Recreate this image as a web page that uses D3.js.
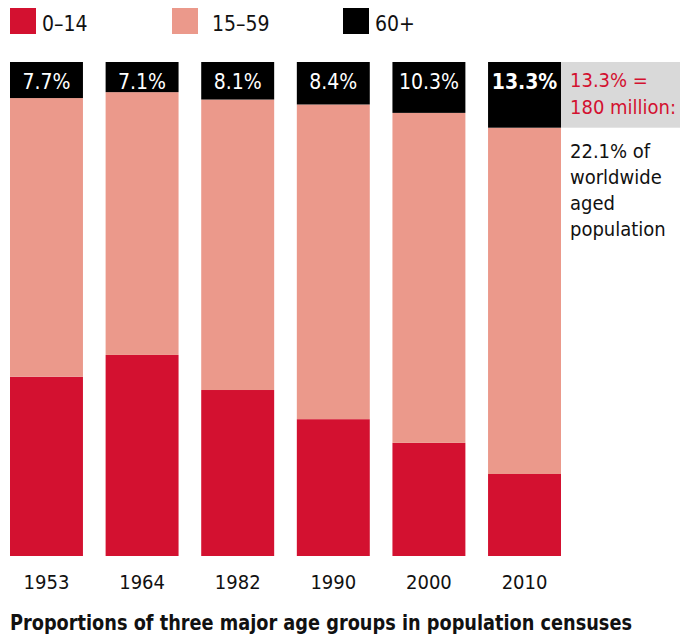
<!DOCTYPE html>
<html>
<head>
<meta charset="utf-8">
<script src="https://cdn.jsdelivr.net/npm/d3@7"></script>
<style>
  body { margin: 0; background: #fff; }
  text { font-family: "Liberation Sans Narrow", "DejaVu Sans Condensed", sans-serif; }
</style>
</head>
<body>
<svg width="691" height="639"></svg>
<script>
const years = ['1953', '1964', '1982', '1990', '2000', '2010'];
const young = [36.3, 40.7, 33.6, 27.7, 22.9, 16.6];   // 0-14
const old = [7.3, 6.1, 7.6, 8.6, 10.3, 13.3];         // 60+
const oldLabels = ['7.7%', '7.1%', '8.1%', '8.4%', '10.3%', '13.3%'];
const groups = ['0–14', '15–59', '60+'];
const colors = ['#d31130', '#eb998b', '#000000'];

let svg = d3.select('svg');

const data = years.map((y, i) => ({
  year: y,
  young: young[i],
  mid: 100 - young[i] - old[i],
  old: old[i]
}));

let x = d3.scaleBand().domain(years).range([10, 561]).paddingInner(0.237),
    y = d3.scaleLinear().domain([0, 100]).range([556, 62]);

const stack = d3.stack().keys(['young', 'mid', 'old']);
const series = stack(data);

svg.append('g')
  .selectAll('g')
  .data(series)
  .enter().append('g')
    .attr('fill', (d, i) => colors[i])
  .selectAll('rect')
  .data(d => d)
  .enter().append('rect')
    .attr('x', d => x(d.data.year))
    .attr('y', d => y(d[1]))
    .attr('width', x.bandwidth())
    .attr('height', d => y(d[0]) - y(d[1]));

// percent labels in the black part
svg.append('g')
  .selectAll('text')
  .data(data)
  .enter().append('text')
    .attr('x', d => x(d.year) + x.bandwidth() / 2)
    .attr('y', 89)
    .attr('text-anchor', 'middle')
    .attr('fill', '#fff')
    .attr('font-size', 21)
    .attr('font-weight', (d, i) => i === years.length - 1 ? 'bold' : 'normal')
    .text((d, i) => oldLabels[i]);

// year axis
svg.append('g')
  .attr('transform', 'translate(0, 567)')
  .call(d3.axisBottom(x).tickSize(0).tickPadding(0))
  .call(g => g.select('.domain').remove())
  .selectAll('text')
    .attr('dy', 0)
    .attr('y', 22)
    .attr('fill', '#111')
    .attr('font-size', 20)
    .style('font-family', '"Liberation Sans Narrow", "DejaVu Sans Condensed", sans-serif');

// callout for 2010
const last = data[data.length - 1];
svg.append('rect')
  .attr('x', x.range()[1])
  .attr('y', y(100))
  .attr('width', 119)
  .attr('height', y(100 - last.old) - y(100))
  .attr('fill', '#d9d9d9');

svg.append('text')
  .attr('fill', '#d31130')
  .attr('font-size', 20)
  .selectAll('tspan')
  .data(['13.3% =', '180 million:'])
  .enter().append('tspan')
    .attr('x', 570)
    .attr('y', (d, i) => 87 + i * 27)
    .text(d => d);

svg.append('text')
  .attr('fill', '#111')
  .attr('font-size', 20)
  .selectAll('tspan')
  .data(['22.1% of', 'worldwide', 'aged', 'population'])
  .enter().append('tspan')
    .attr('x', 570)
    .attr('y', (d, i) => 158 + i * 26)
    .text(d => d);

// legend
const legendX = [10, 172, 343];
const legend = svg.append('g')
  .selectAll('g')
  .data(groups)
  .enter().append('g')
    .attr('transform', (d, i) => `translate(${legendX[i]}, 8)`);

legend.append('rect')
  .attr('width', 26)
  .attr('height', 26)
  .attr('fill', (d, i) => colors[i]);

legend.append('text')
  .attr('x', (d, i) => i === 1 ? 40 : 32)
  .attr('y', 23)
  .attr('font-size', 21)
  .attr('fill', '#111')
  .text(d => d);

// title
svg.append('text')
  .attr('x', 10)
  .attr('y', 630)
  .attr('font-size', 21)
  .attr('font-weight', 'bold')
  .attr('fill', '#111')
  .attr('textLength', 622)
  .attr('lengthAdjust', 'spacingAndGlyphs')
  .text('Proportions of three major age groups in population censuses');
</script>
</body>
</html>
